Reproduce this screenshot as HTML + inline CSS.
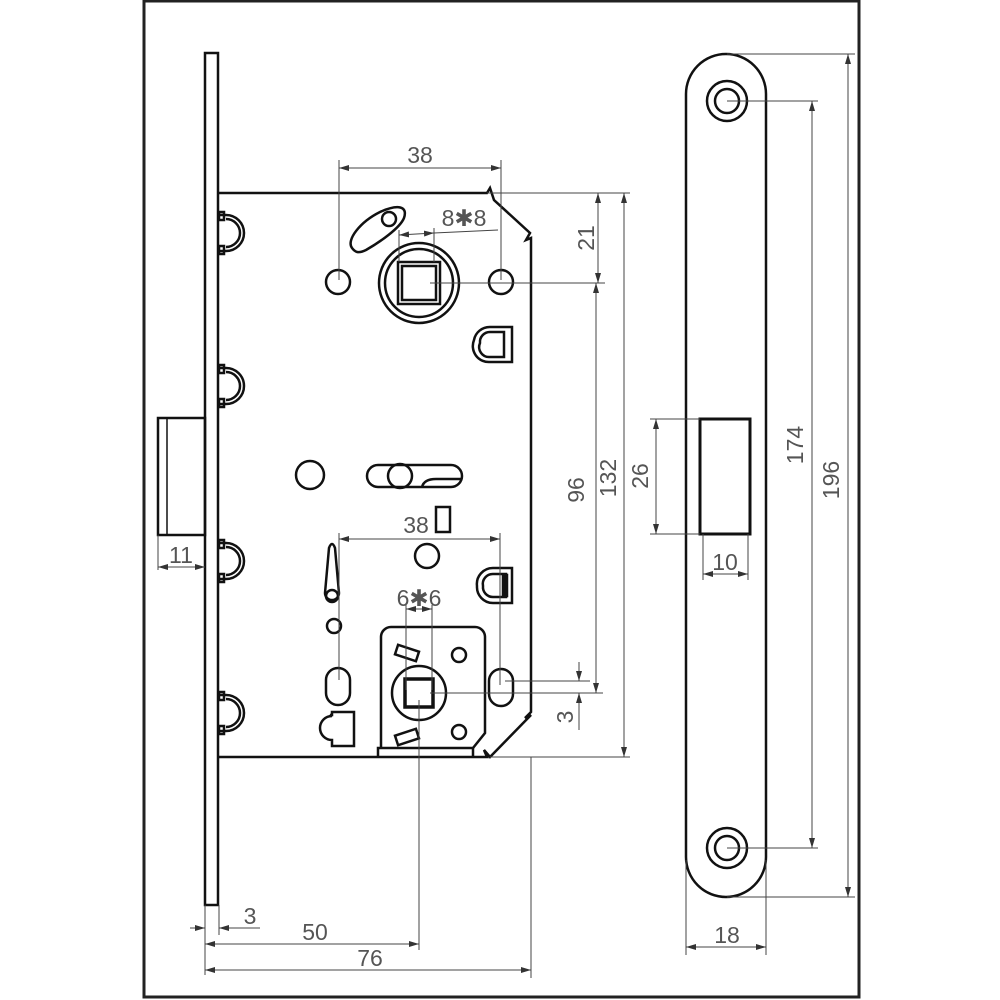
<!DOCTYPE html>
<html><head><style>body{margin:0;background:#fff}svg{display:block}</style></head><body>
<svg width="1000" height="1000" viewBox="0 0 1000 1000" xmlns="http://www.w3.org/2000/svg">
<defs>
<marker id="a" viewBox="0 0 10 6" refX="10" refY="3" markerWidth="10" markerHeight="6" orient="auto-start-reverse" markerUnits="userSpaceOnUse"><path d="M0,0 L10,3 L0,6 z" fill="#333"/></marker>
</defs>
<rect x="144" y="1" width="715" height="996" fill="none" stroke="#222" stroke-width="3"/>
<g fill="none" stroke="#111" stroke-width="2.5">
<rect x="205" y="53" width="13" height="852"/>
<rect x="158" y="418" width="47" height="117"/>
<line x1="167" y1="418" x2="167" y2="535" stroke-width="1.5"/>
<path d="M219,193 L487,193 L490,188 L494,200 L530,233 L526,240 L531,238 L531,712 L525,718 L531,715 L490,757 L484,750 L487,757 L219,757"/>
<g id="hk"><path d="M219,215 h7 a16,16 0 0 1 0,36 h-7"/><path d="M226,219 a12,12 0 0 1 0,28"/><rect x="219" y="212" width="5" height="8"/><rect x="219" y="246" width="5" height="8"/></g>
<use href="#hk" y="153"/><use href="#hk" y="328"/><use href="#hk" y="480"/>
<circle cx="338" cy="282" r="12"/><circle cx="501" cy="282" r="12"/>
<circle cx="419" cy="283" r="40"/><circle cx="419" cy="283" r="34"/>
<rect x="398" y="262" width="42" height="42"/><rect x="402" y="266" width="34" height="34"/>
<path d="M352,248 C346,240 360,222 380,212 C398,204 408,206 404,218 C400,228 380,242 366,250 C358,254 355,252 352,248 Z"/>
<circle cx="389" cy="219" r="7"/>
<path d="M474,340 a16,16 0 0 0 16,22 h22 v-35 h-22 a16,16 0 0 0 -16,13 z"/><path d="M480,343 a10,10 0 0 0 10,14 h14 v-25 h-14 a10,10 0 0 0 -10,11 z"/>
<circle cx="310" cy="475" r="14"/>
<rect x="367" y="465" width="95" height="22" rx="11"/><circle cx="400" cy="476" r="12"/><path d="M422,487 q2,-8 14,-8 h26"/>
<rect x="436" y="507" width="14" height="25"/>
<circle cx="427" cy="556" r="12"/>
<path d="M329,548 q3,-8 6,0 l4,45 a7,7 0 0 1 -14,0 z"/><circle cx="332" cy="596" r="6"/>
<circle cx="334" cy="626" r="7"/>
<rect x="326" y="668" width="24" height="37" rx="12"/>
<rect x="489" y="669" width="24" height="37" rx="12"/>
<path d="M330,715 h2 v-3 h22 v34 h-22 v-6 a12,12 0 0 1 0,-24 z"/>
<path d="M477,586 a16,16 0 0 0 16,17 h19 v-35 h-19 a16,16 0 0 0 -16,18 z"/><path d="M483,586 a10,10 0 0 0 10,11 h13 v-23 h-13 a10,10 0 0 0 -10,12 z"/><rect x="503" y="575" width="4" height="21" fill="#111"/>
<path d="M381,748 L381,637 a10,10 0 0 1 10,-10 h84 a10,10 0 0 1 10,10 v96 l-12,15"/>
<path d="M378,757 v-9 h95 v9"/>
<circle cx="419" cy="693" r="27"/>
<rect x="405" y="679" width="28" height="28" stroke-width="3.5"/>
<circle cx="459" cy="655" r="7"/><circle cx="459" cy="732" r="7"/>
<rect x="396" y="648" width="22" height="10" transform="rotate(18 407 653)"/>
<rect x="396" y="732" width="22" height="10" transform="rotate(-18 407 737)"/>
<path d="M686,94 a40,40 0 0 1 80,0 V857 a40,40 0 0 1 -80,0 Z"/>
<circle cx="727" cy="101" r="20"/><circle cx="727" cy="101" r="12"/>
<circle cx="727" cy="848" r="20"/><circle cx="727" cy="848" r="12"/>
<rect x="700" y="419" width="50" height="115" stroke-width="3"/>
</g>
<g stroke="#444" stroke-width="1" fill="none">
<path d="M339,160 V280 M501,160 V280"/><line x1="339" y1="168" x2="501" y2="168" marker-start="url(#a)" marker-end="url(#a)"/>
<path d="M399,230 V262 M434,228 V262"/><line x1="399" y1="235" x2="434" y2="233" marker-start="url(#a)" marker-end="url(#a)"/><line x1="434" y1="233" x2="498" y2="230"/>
<path d="M487,193 H630 M430,283 H605 M490,757 H630 M430,693 H603 M505,681 H590"/>
<line x1="598" y1="193" x2="598" y2="283" marker-start="url(#a)" marker-end="url(#a)"/>
<line x1="596" y1="283" x2="596" y2="693" marker-start="url(#a)" marker-end="url(#a)"/>
<line x1="624" y1="193" x2="624" y2="757" marker-start="url(#a)" marker-end="url(#a)"/>
<line x1="579" y1="662" x2="579" y2="681" marker-end="url(#a)"/><line x1="579" y1="730" x2="579" y2="693" marker-end="url(#a)"/>
<path d="M339,533 V680 M500,533 V685"/><line x1="339" y1="539" x2="500" y2="539" marker-start="url(#a)" marker-end="url(#a)"/>
<path d="M406,605 V690 M432,605 V690"/><line x1="406" y1="609" x2="432" y2="609" marker-start="url(#a)" marker-end="url(#a)"/>
<path d="M158,535 V570 M205,905 V975 M219,905 V935 M419,700 V950 M531,757 V978"/>
<line x1="158" y1="567" x2="205" y2="567" marker-start="url(#a)" marker-end="url(#a)"/>
<line x1="190" y1="928" x2="205" y2="928" marker-end="url(#a)"/><line x1="260" y1="928" x2="219" y2="928" marker-end="url(#a)"/>
<line x1="205" y1="944" x2="419" y2="944" marker-start="url(#a)" marker-end="url(#a)"/>
<line x1="205" y1="970" x2="531" y2="970" marker-start="url(#a)" marker-end="url(#a)"/>
<path d="M650,419 H700 M650,534 H700 M703,534 V580 M748,534 V580 M686,860 V955 M766,860 V955 M727,54 H855 M727,101 H818 M727,848 H818 M727,897 H855"/>
<line x1="656" y1="419" x2="656" y2="534" marker-start="url(#a)" marker-end="url(#a)"/>
<line x1="703" y1="574" x2="748" y2="574" marker-start="url(#a)" marker-end="url(#a)"/>
<line x1="812" y1="101" x2="812" y2="848" marker-start="url(#a)" marker-end="url(#a)"/>
<line x1="848" y1="54" x2="848" y2="897" marker-start="url(#a)" marker-end="url(#a)"/>
<line x1="686" y1="947" x2="766" y2="947" marker-start="url(#a)" marker-end="url(#a)"/>
</g>
<g fill="#555" font-family="Liberation Sans, sans-serif" font-size="23" text-anchor="middle">
<text x="420" y="163">38</text>
<text x="464" y="226">8✱8</text>
<text x="416" y="533">38</text>
<text x="419" y="606">6✱6</text>
<text x="181" y="563">11</text>
<text x="250" y="924">3</text>
<text x="315" y="940">50</text>
<text x="370" y="966">76</text>
<text x="725" y="570">10</text>
<text x="727" y="943">18</text>
<text transform="translate(588,238) rotate(-90)" dominant-baseline="middle">21</text>
<text transform="translate(578,490) rotate(-90)" dominant-baseline="middle">96</text>
<text transform="translate(610,478) rotate(-90)" dominant-baseline="middle">132</text>
<text transform="translate(567,717) rotate(-90)" dominant-baseline="middle">3</text>
<text transform="translate(642,476) rotate(-90)" dominant-baseline="middle">26</text>
<text transform="translate(797,445) rotate(-90)" dominant-baseline="middle">174</text>
<text transform="translate(833,480) rotate(-90)" dominant-baseline="middle">196</text>
</g>
</svg>
</body></html>
